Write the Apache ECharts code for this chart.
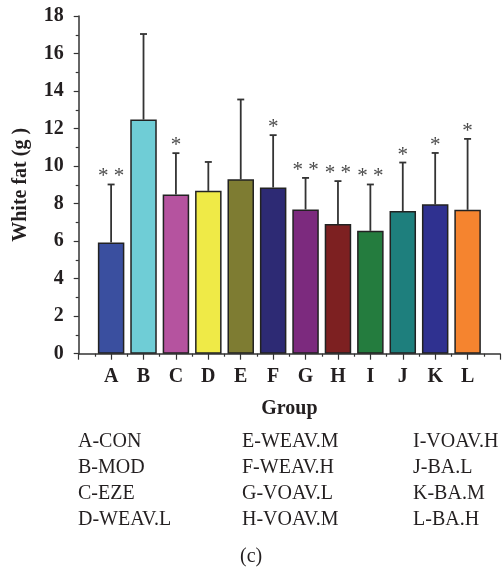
<!DOCTYPE html>
<html>
<head>
<meta charset="utf-8">
<script src="https://cdn.jsdelivr.net/npm/echarts@6/dist/echarts.min.js"></script>
<style>
html,body{margin:0;padding:0;background:#fff;}
#chart{width:503px;height:572px;}
</style>
</head>
<body>
<div id="chart"></div>
<script>
const categories = ['A','B','C','D','E','F','G','H','I','J','K','L'];
const meanValues = [5.93, 12.48, 8.49, 8.68, 9.30, 8.86, 7.69, 6.91, 6.55, 7.60, 7.96, 7.67];
const sdValues   = [3.09, 4.56, 2.20, 1.54, 4.25, 2.79, 1.68, 2.29, 2.47, 2.59, 2.74, 3.78];
const significance = ['* *','','*','','','*','* *','* *','* *','*','*','*'];
const barColors = ['#3a4f9f','#6fcdd6','#b5539f','#efea47','#7e7c32','#2d2a74','#7c2a7e','#7d2021','#247c3e','#1e7f7d','#2f3190','#f5842f'];
const legendLabels = [
  ['A-CON','B-MOD','C-EZE','D-WEAV.L'],
  ['E-WEAV.M','F-WEAV.H','G-VOAV.L','H-VOAV.M'],
  ['I-VOAV.H','J-BA.L','K-BA.M','L-BA.H']
];
const yTicks = {min:0, max:18, interval:2};
const xLabel = 'Group';
const yLabel = 'White fat (g )';
const caption = '(c)';

const serif = '"Liberation Serif","DejaVu Serif",serif';
const chart = echarts.init(document.getElementById('chart'), null, {renderer:'canvas'});

const barData = meanValues.map((v,i)=>({value:[i+1, v], itemStyle:{color:barColors[i]}}));
const errData = meanValues.map((v,i)=>[i+1, v, v+sdValues[i]]);

const legendCols = [78, 242, 413];
const legendRows = [443, 469, 495, 521];
const graphics = [];
legendLabels.forEach((col,ci)=>col.forEach((t,ri)=>{
  graphics.push({type:'text', left:legendCols[ci], top:legendRows[ri]-11,
    style:{text:t, font:'20px '+serif, fill:'#231f20'}});
}));
graphics.push({type:'text', left:240, top:547, style:{text:caption, font:'20px '+serif, fill:'#231f20'}});

chart.setOption({
  animation:false,
  grid:{left:78.7, right:0, top:16, bottom:218.3, containLabel:false},
  xAxis:{
    type:'value', min:0, max:13, interval:1,
    name:xLabel, nameLocation:'middle', nameGap:45,
    nameTextStyle:{fontFamily:serif, fontWeight:'bold', fontSize:20, color:'#231f20'},
    axisLine:{show:true, lineStyle:{color:'#333', width:1.5}},
    axisTick:{show:true, inside:false, length:6, lineStyle:{color:'#333', width:1.2}},
    minorTick:{show:true, splitNumber:2, length:3, lineStyle:{color:'#333', width:1.2}},
    splitLine:{show:false},
    axisLabel:{fontFamily:serif, fontWeight:'bold', fontSize:20, color:'#231f20', margin:13,
      formatter:(v)=> (v>=1 && v<=12) ? categories[v-1] : ''}
  },
  yAxis:{
    type:'value', min:yTicks.min, max:yTicks.max, interval:yTicks.interval,
    name:yLabel, nameLocation:'middle', nameGap:48,
    nameTextStyle:{fontFamily:serif, fontWeight:'bold', fontSize:20, color:'#231f20'},
    axisLine:{show:true, lineStyle:{color:'#333', width:1.5}},
    axisTick:{show:true, inside:false, length:5, lineStyle:{color:'#333', width:1.2}},
    minorTick:{show:true, splitNumber:2, length:3, lineStyle:{color:'#333', width:1.2}},
    splitLine:{show:false},
    axisLabel:{fontFamily:serif, fontWeight:'bold', fontSize:20, color:'#231f20', margin:15}
  },
  series:[
    {
      type:'bar', data:barData, barWidth:26.5,
      itemStyle:{borderColor:'#222', borderWidth:1.5},
      z:2
    },
    {
      type:'custom', data:errData, z:1,
      renderItem:(params, api)=>{
        const x = api.value(0);
        const p0 = api.coord([x, api.value(1)]);
        const p1 = api.coord([x, api.value(2)]);
        const sig = significance[params.dataIndex];
        const children = [
          {type:'line', shape:{x1:p0[0], y1:p0[1], x2:p1[0], y2:p1[1]}, style:{stroke:'#333', lineWidth:1.8}},
          {type:'line', shape:{x1:p1[0]-3.5, y1:p1[1], x2:p1[0]+3.5, y2:p1[1]}, style:{stroke:'#333', lineWidth:1.8}}
        ];
        if (sig) {
          children.push({type:'text', x:p1[0], y:p1[1]+3,
            style:{text:sig, font:'21px '+serif, fill:'#4a4a4a', align:'center', verticalAlign:'bottom'}});
        }
        return {type:'group', children:children};
      }
    }
  ],
  graphic:graphics
});
</script>
</body>
</html>
